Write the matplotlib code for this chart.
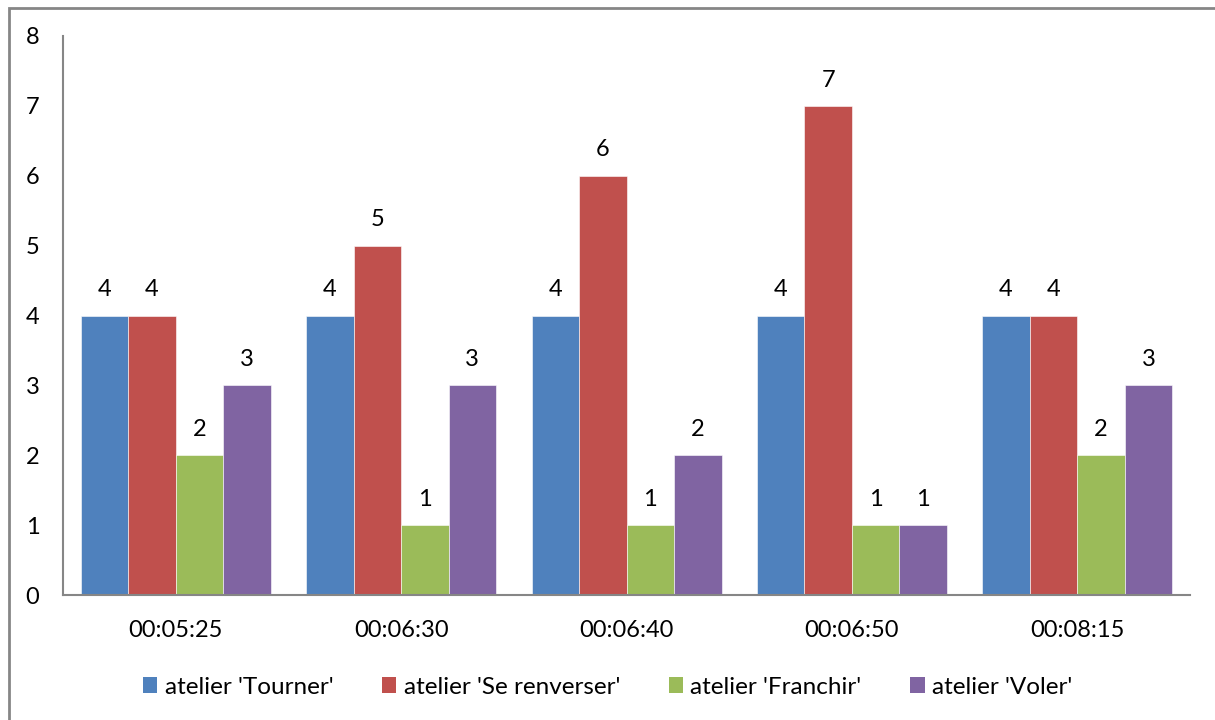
import matplotlib
matplotlib.use("Agg")
import matplotlib.pyplot as plt
import numpy as np
from matplotlib.patches import Rectangle, Patch

plt.rcParams['font.family'] = ['Lato', 'DejaVu Sans']

categories = ["00:05:25", "00:06:30", "00:06:40", "00:06:50", "00:08:15"]
series_names = ["atelier 'Tourner'", "atelier 'Se renverser'", "atelier 'Franchir'", "atelier 'Voler'"]
tourner = [4, 4, 4, 4, 4]
renverser = [4, 5, 6, 7, 4]
franchir = [2, 1, 1, 1, 2]
voler = [3, 3, 2, 1, 3]
series_values = [tourner, renverser, franchir, voler]
colors = ["#4F81BD", "#C0504D", "#9BBB59", "#8064A2"]
yticks = [0, 1, 2, 3, 4, 5, 6, 7, 8]

FS = 17
fig = plt.figure(figsize=(12.15, 7.2), dpi=100)
ax = fig.add_axes([63/1215, 1-595/720, (1190-63)/1215, (595-36)/720])

x = np.arange(len(categories))
n = len(series_values)
bw = 47.5/225.4
for i, (vals, c) in enumerate(zip(series_values, colors)):
    pos = x + (i - (n-1)/2) * bw
    bars = ax.bar(pos, vals, width=bw, color=c, edgecolor='white', linewidth=0.4, label=series_names[i])
    for b, v in zip(bars, vals):
        ax.annotate(str(v), (b.get_x() + b.get_width()/2, v), xytext=(0, 11),
                    textcoords='offset points', ha='center', va='bottom', fontsize=FS)

ax.set_xlim(-0.5, len(categories)-0.5)
ax.set_ylim(0, 8)
ax.set_yticks(yticks)
ax.set_yticklabels([str(t) for t in yticks], fontsize=FS)
ax.set_xticks(x)
ax.set_xticklabels(categories, fontsize=FS)
ax.tick_params(axis='y', length=0, pad=17)
ax.tick_params(axis='x', length=0, pad=18)
for s in ['top', 'right']:
    ax.spines[s].set_visible(False)
for s in ['left', 'bottom']:
    ax.spines[s].set_color('#868686')
    ax.spines[s].set_linewidth(1.5)

handles = [Patch(facecolor=c, edgecolor='none') for c in colors]
fig.legend(handles, series_names, loc='center', bbox_to_anchor=(0.5, 1-687/720), ncol=4,
           frameon=False, fontsize=17.5, handlelength=0.6, handleheight=0.6,
           handletextpad=0.3, columnspacing=2.0)

fig.patches.append(Rectangle((8.5/1215, -0.1), 1.2, 1 - 7.5/720 + 0.1, transform=fig.transFigure,
                             fill=False, edgecolor='#868686', linewidth=2))

fig.savefig("out.png", dpi=100)
